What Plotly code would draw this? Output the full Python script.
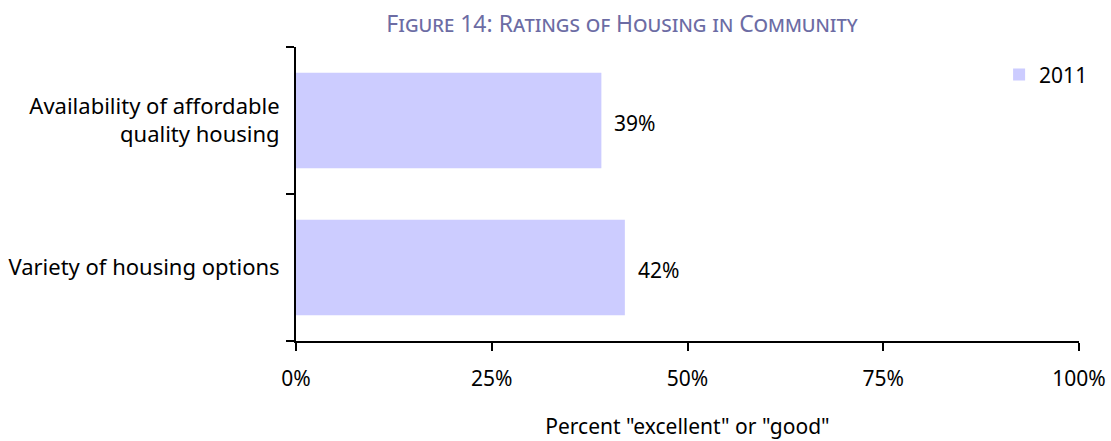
import plotly.graph_objects as go

categories = ["Variety of housing options", "Availability of affordable<br>quality housing"]
values_2011 = [42, 39]
value_labels = ["42%", "39%"]
x_ticks = [0, 25, 50, 75, 100]
x_tick_labels = ["0%", "25%", "50%", "75%", "100%"]

FONT = "Noto Sans"
FS = 21
fig = go.Figure()
fig.add_trace(go.Bar(
    y=categories, x=values_2011, orientation="h", name="2011",
    marker=dict(color="#CCCCFF", line=dict(width=0)),
))
for cat, val, lab in zip(categories, values_2011, value_labels):
    fig.add_annotation(x=val, y=cat, text=lab, showarrow=False, xanchor="left",
                       yanchor="middle", xshift=11, yshift=-2,
                       font=dict(family=FONT, size=FS, color="#000000"))

fig.update_layout(
    width=1111, height=441,
    margin=dict(l=296, r=32, t=47, b=100, autoexpand=False),
    paper_bgcolor="white", plot_bgcolor="white",
    font=dict(family=FONT, size=FS, color="#000000"),
    bargap=0.35,
    showlegend=True,
    legend=dict(x=1.018, y=0.975, xanchor="right", yanchor="top",
                font=dict(family=FONT, size=FS), bgcolor="rgba(0,0,0,0)",
                itemwidth=30),
    title=dict(text="Figure 14: Ratings of Housing in Community", x=622/1111, y=1 - 24/441,
               xref="container", yref="container", xanchor="center", yanchor="middle",
               font=dict(family=FONT, size=23, color="#6C6CA4", variant="small-caps")),
)
fig.update_xaxes(
    range=[0, 100], tickvals=x_ticks, ticktext=x_tick_labels,
    showline=True, linecolor="black", linewidth=2,
    ticks="outside", ticklen=8, tickwidth=2, tickcolor="black",
    showgrid=False, zeroline=False, automargin=False, ticklabelstandoff=10,
    title=dict(text='Percent "excellent" or "good"', font=dict(family=FONT, size=FS), standoff=28),
    tickfont=dict(family=FONT, size=FS),
)
fig.update_yaxes(
    showline=True, linecolor="black", linewidth=2,
    ticks="outside", ticklen=8, tickwidth=2, tickcolor="black",
    tickson="boundaries", showgrid=False, zeroline=False, automargin=False,
    tickfont=dict(family=FONT, size=22), ticklabelstandoff=10,
)
fig.write_html("out.html", config={"displayModeBar": False},
               post_script="document.body.style.margin='0';")
